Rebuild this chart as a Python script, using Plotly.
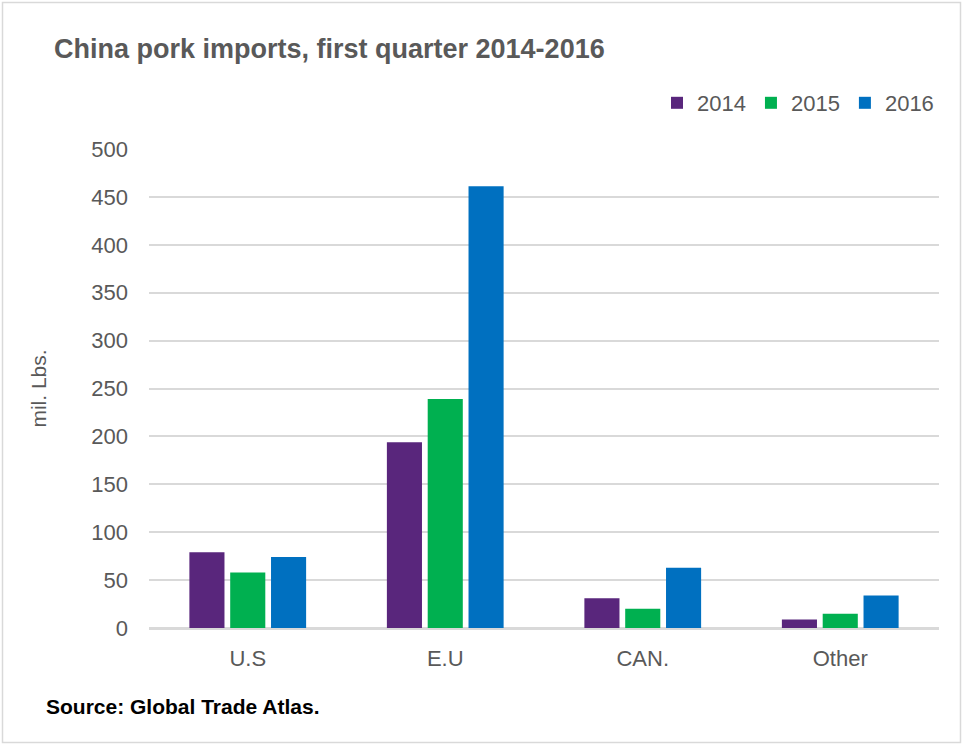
import plotly.graph_objects as go

# Pork import volumes into China by origin, first quarter (million lbs)
regions = ["U.S", "E.U", "CAN.", "Other"]
years = ["2014", "2015", "2016"]
imports_2014 = [79, 194, 31, 9]
imports_2015 = [58, 239, 20, 15]
imports_2016 = [74, 461, 63, 34]
y_ticks = [0, 50, 100, 150, 200, 250, 300, 350, 400, 450, 500]

series = [imports_2014, imports_2015, imports_2016]
colors = ["#59267c", "#00b050", "#0070c0"]

W, H = 963, 745
ML, MR, MT, MB = 149, 24, 149, 117

fig = go.Figure()
for yr, vals, col in zip(years, series, colors):
    fig.add_trace(go.Bar(
        name=yr, x=regions, y=vals,
        marker=dict(color=col, line=dict(width=0)),
    ))

pw = W - ML - MR
ph = H - MT - MB

fig.update_layout(
    width=W, height=H,
    margin=dict(l=ML, r=MR, t=MT, b=MB),
    paper_bgcolor="white", plot_bgcolor="white",
    font=dict(family="Liberation Sans, Arial, sans-serif", color="#595959", size=22),
    barmode="group", bargap=0.38, bargroupgap=0.14,
    title=dict(
        text="<b>China pork imports, first quarter 2014-2016</b>",
        x=54 / W, xanchor="left", y=1 - 49 / H, yanchor="middle",
        font=dict(size=27, color="#595959"),
    ),
    legend=dict(
        orientation="h", x=1.0, xanchor="right", y=1 + (149 - 103) / ph, yanchor="middle",
        font=dict(size=22, color="#595959"), itemwidth=30, traceorder="normal",
        bgcolor="rgba(0,0,0,0)",
    ),
    xaxis=dict(
        showgrid=False, showline=True, linecolor="#d9d9d9", linewidth=1.5,
        ticks="", tickfont=dict(size=22, color="#595959"), ticklabelstandoff=10,
    ),
    yaxis=dict(
        range=[0, 500], tickvals=y_ticks, showgrid=True, gridcolor="#d9d9d9",
        gridwidth=1.5, zeroline=True, zerolinecolor="#d9d9d9", zerolinewidth=1.5,
        showline=False, ticks="", tickfont=dict(size=22, color="#595959"),
        ticklabelstandoff=20,
        title=dict(text="mil. Lbs.", font=dict(size=21, color="#595959"), standoff=38),
    ),
)

# Source note under the chart
fig.add_annotation(
    text="<b>Source: Global Trade Atlas.</b>",
    xref="paper", yref="paper", x=(44 - ML) / pw, y=-(706 - MT - ph) / ph,
    xanchor="left", yanchor="middle", showarrow=False,
    font=dict(size=21, color="#000000"),
)

# Light frame around the whole figure
fig.add_shape(
    type="rect", xref="paper", yref="paper",
    x0=(2.5 - ML) / pw, x1=(W - 2.5 - ML) / pw,
    y0=-(H - 2.5 - MT - ph) / ph, y1=1 + (MT - 2.5) / ph,
    line=dict(color="#d9d9d9", width=1.5), fillcolor="rgba(0,0,0,0)", layer="below",
)

fig.write_html("out.html")
